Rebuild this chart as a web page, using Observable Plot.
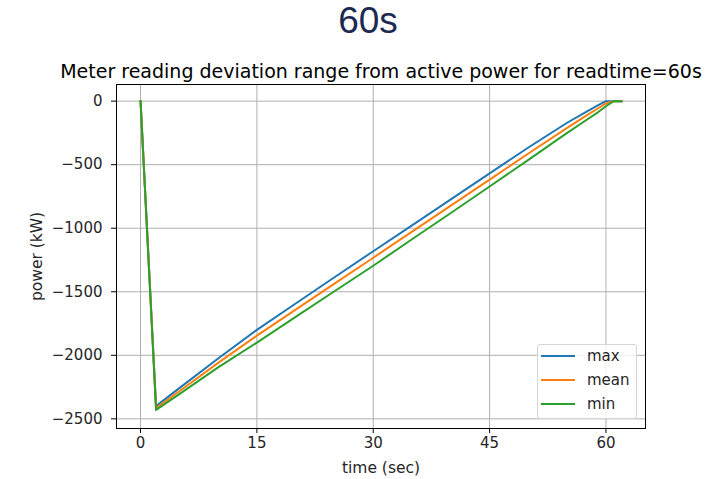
<!DOCTYPE html>
<html><head><meta charset="utf-8">
<script src="https://cdn.jsdelivr.net/npm/d3@7"></script>
<script src="https://cdn.jsdelivr.net/npm/@observablehq/plot@0.6"></script>
<style>
body{margin:0;background:#fff;width:728px;height:479px;overflow:hidden;position:relative;font-family:"DejaVu Sans",sans-serif;}
#head{height:48px;text-align:center;font-family:"Liberation Sans",Arial,sans-serif;font-size:37px;color:#1c2a52;line-height:42px;padding-left:8px;box-sizing:border-box;}
#legend{position:absolute;left:537px;top:344px;width:100px;height:75px;border:1px solid #d6d6d6;border-radius:3px;background:rgba(255,255,255,0.8);box-sizing:border-box;}
.row{position:absolute;left:0;height:20px;width:100%;}
.sw{position:absolute;left:3px;top:9px;width:34px;height:2px;}
.lb{position:absolute;left:49px;top:0;line-height:20px;font-size:15px;color:#262626;}
</style>
</head><body>
<div id="head">60s</div>
<div id="chart"></div>
<div id="legend"></div>
<script>
const seriesNames = ["max", "mean", "min"];
const seriesColors = ["#1f77b4", "#ff7f0e", "#2ca02c"];
const times = [0, 2, 5, 10, 15, 20, 25, 30, 35, 40, 45, 50, 55, 57, 59, 60, 61, 62];
const maxVals  = [0, -2400, -2258, -2025, -1800, -1592, -1386, -1181, -977, -773, -569, -365, -170, -100, -32, 0, 0, 0];
const meanVals = [0, -2415, -2283, -2060, -1845, -1640, -1436, -1232, -1027, -822, -617, -412, -210, -132, -56, -18, 0, 0];
const minVals  = [0, -2430, -2305, -2095, -1900, -1697, -1496, -1295, -1087, -880, -672, -462, -250, -168, -86, -40, 0, 0];
const xTicks = [0, 15, 30, 45, 60];
const yTicks = [0, -500, -1000, -1500, -2000, -2500];
const titleText = "Meter reading deviation range from active power for readtime=60s";
const xLabel = "time (sec)";
const yLabel = "power (kW)";

const valueSets = [maxVals, meanVals, minVals];
const data = [];
seriesNames.forEach((s, i) => times.forEach((t, j) => data.push({series: s, t, v: valueSets[i][j]})));

const fmt = d3.format("d");
const chart = Plot.plot({
  width: 728,
  height: 431,
  marginTop: 36,
  marginBottom: 51,
  marginLeft: 116,
  marginRight: 83,
  style: {fontFamily: "DejaVu Sans, sans-serif", fontSize: "15px", color: "#000", background: "transparent"},
  x: {domain: [-3.1, 65.1]},
  y: {domain: [-2576, 131]},
  color: {domain: seriesNames, range: seriesColors},
  marks: [
    Plot.gridX(xTicks, {stroke: "#b0b0b0", strokeOpacity: 1, strokeWidth: 1}),
    Plot.gridY(yTicks, {stroke: "#b0b0b0", strokeOpacity: 1, strokeWidth: 1}),
    Plot.axisX(xTicks, {tickSize: 5, tickPadding: 4, label: null, fill: "#262626"}),
    Plot.axisY(yTicks, {tickSize: 5, tickPadding: 9, tickFormat: fmt, label: null, fill: "#262626"}),
    Plot.line(data, {x: "t", y: "v", z: "series", stroke: "series", strokeWidth: 2, strokeLinejoin: "round", strokeLinecap: "square"}),
    Plot.frame({stroke: "#000", strokeWidth: 1}),
    Plot.text([titleText], {frameAnchor: "top", dy: -13, lineAnchor: "middle", fontSize: 19, fill: "#000"}),
    Plot.text([xLabel], {frameAnchor: "bottom", dy: 40, lineAnchor: "middle", fontSize: 15.5, fill: "#262626"}),
    Plot.text([yLabel], {frameAnchor: "left", dx: -79, rotate: -90, textAnchor: "middle", lineAnchor: "middle", fontSize: 15.5, fill: "#262626"})
  ]
});
document.getElementById("chart").appendChild(chart);

const leg = document.getElementById("legend");
seriesNames.forEach((s, i) => {
  const row = document.createElement("div");
  row.className = "row";
  row.style.top = (1 + i * 24) + "px";
  const sw = document.createElement("div");
  sw.className = "sw";
  sw.style.background = seriesColors[i];
  const lb = document.createElement("div");
  lb.className = "lb";
  lb.textContent = s;
  row.appendChild(sw); row.appendChild(lb);
  leg.appendChild(row);
});
</script>
</body></html>
